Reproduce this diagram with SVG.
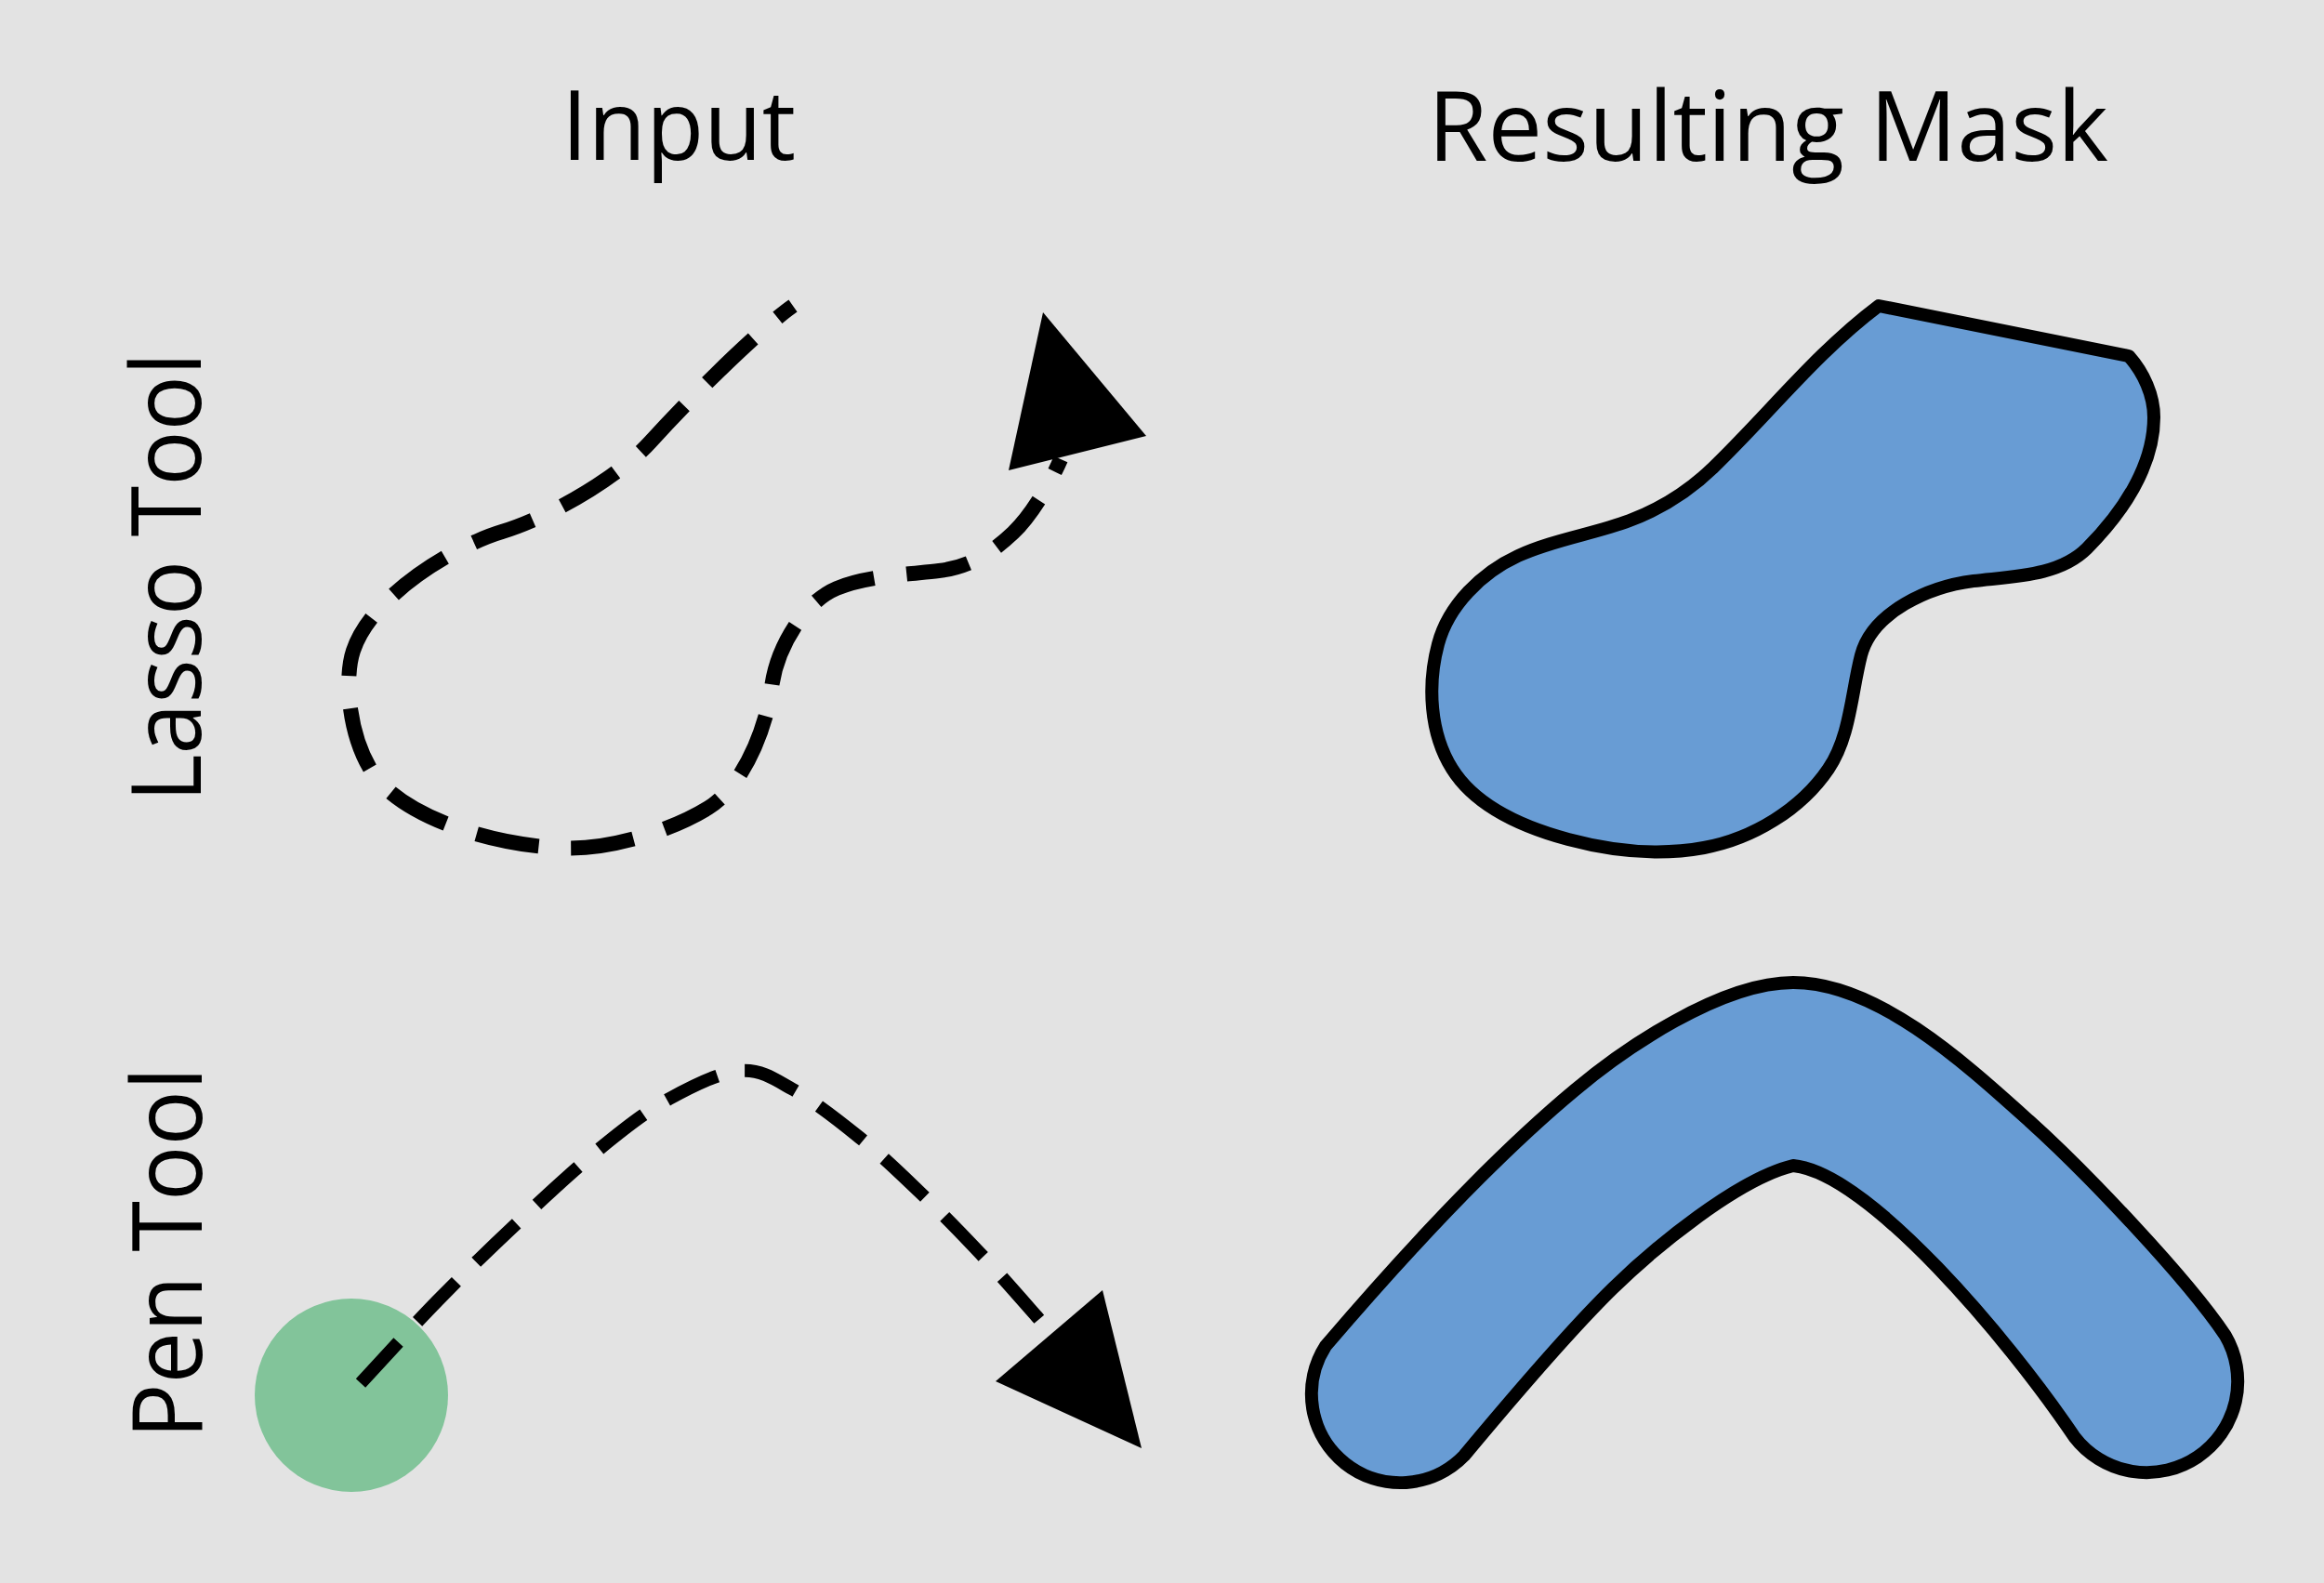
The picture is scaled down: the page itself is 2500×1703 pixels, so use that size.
<svg xmlns="http://www.w3.org/2000/svg" width="2500" height="1703" viewBox="0 0 2500 1703">
  <style>
    .lbl { font-family: "Open Sans", "Noto Sans", "Liberation Sans", sans-serif; font-size: 105px; fill: #000; }
    .mask { fill: #689cd4; stroke: #000; stroke-width: 14; stroke-linejoin: round; }
    .dash { fill: none; stroke: #000; stroke-linecap: butt; }
    .head { fill: #000; stroke: none; }
  </style>
  <rect x="0" y="0" width="2500" height="1703" fill="#e3e3e3"/>

  <g id="headers">
    <text class="lbl" x="730" y="172" text-anchor="middle" textLength="252" lengthAdjust="spacingAndGlyphs">Input</text>
    <text class="lbl" x="1902" y="173" text-anchor="middle" textLength="732" lengthAdjust="spacingAndGlyphs">Resulting Mask</text>
  </g>

  <g id="row-labels">
    <text class="lbl" transform="translate(216,621) rotate(-90)" x="0" y="0" text-anchor="middle" textLength="484" lengthAdjust="spacingAndGlyphs">Lasso Tool</text>
    <text class="lbl" transform="translate(217,1348) rotate(-90)" x="0" y="0" text-anchor="middle" textLength="400" lengthAdjust="spacingAndGlyphs">Pen Tool</text>
  </g>

  <g id="pen-start">
    <circle cx="378" cy="1501" r="104" fill="#82c49a"/>
  </g>

  <g id="lasso-mask">
    <path class="mask" d="M 2021 329 L 2290 383 C 2306 401, 2317 425, 2317 449 C 2317 502, 2282.5 552.5, 2245 590 C 2215 620, 2165 620, 2123 625 C 2075 631, 2014 658.5, 2002 705 C 1991.5 745.7, 1990.5 792, 1967 827 C 1937.3 871, 1885 902.5, 1833 912 C 1785 920.8, 1734.3 915.7, 1687 903 C 1639.7 890.3, 1588 868.7, 1562 827 C 1538 788.7, 1535.3 736.7, 1547 693 C 1558 651.3, 1594 616, 1633 598 C 1671 580.4, 1714 574.7, 1753 560 C 1786 547.6, 1817.4 527.9, 1843 503 C 1903 445, 1954.6 378.8, 2021 329 Z"/>
  </g>

  <g id="pen-mask">
    <path class="mask" d="M 1929 1057 C 2019 1057, 2113 1143, 2183 1206 C 2243 1260, 2351.6 1374, 2393.6 1436.3 A 98 98 0 0 1 2231.4 1545.7 C 2160 1440, 2010 1262, 1929 1254 C 1870 1268, 1780 1342, 1735 1386 C 1690 1430, 1615 1518, 1575 1566 A 95.5 95.5 0 0 1 1426 1448 C 1503 1358, 1604 1247.5, 1695 1172 C 1745 1130, 1850 1057, 1929 1057 Z"/>
  </g>

  <g id="connectors">
    <g id="lasso-stroke">
      <path class="dash" stroke-width="16" stroke-dasharray="68 35" stroke-dashoffset="47" d="M 853 329 C 820 352, 750 420, 700 475 C 665 514, 590 557, 540 572 C 490 587, 400 640, 380 700 C 370 730, 375 790, 400 830 C 428 875, 520 908, 600 912 C 650 916, 720 895, 762 869 C 800 846, 825 780, 830 740 C 834 705, 860 650, 900 633 C 930 620, 975 618, 1010 614 C 1045 610, 1070 592, 1090 573 C 1112 552, 1132 515, 1141 494"/>
      <polygon class="head" points="1122,336 1233,469 1085,506"/>
    </g>
    <g id="pen-stroke">
      <path class="dash" stroke-width="14" stroke-dasharray="60 30" d="M 388 1488 C 401.7 1473.3, 442 1428.7, 470 1400 C 498 1371.3, 526.7 1343.5, 556 1316 C 585.3 1288.5, 618.7 1257.3, 646 1235 C 673.3 1212.7, 695 1195.8, 720 1182 C 745 1168.2, 773.8 1153.7, 796 1152 C 818.2 1150.3, 831.5 1160, 853 1172 C 874.5 1184, 901.8 1205.2, 925 1224 C 948.2 1242.8, 970.3 1264.2, 992 1285 C 1013.7 1305.8, 1034.5 1327.2, 1055 1349 C 1075.5 1370.8, 1102.5 1401.8, 1115 1416 C 1122 1424, 1128 1432, 1133 1440"/>
      <polygon class="head" points="1186,1388 1228,1558 1071,1486"/>
    </g>
  </g>
</svg>
